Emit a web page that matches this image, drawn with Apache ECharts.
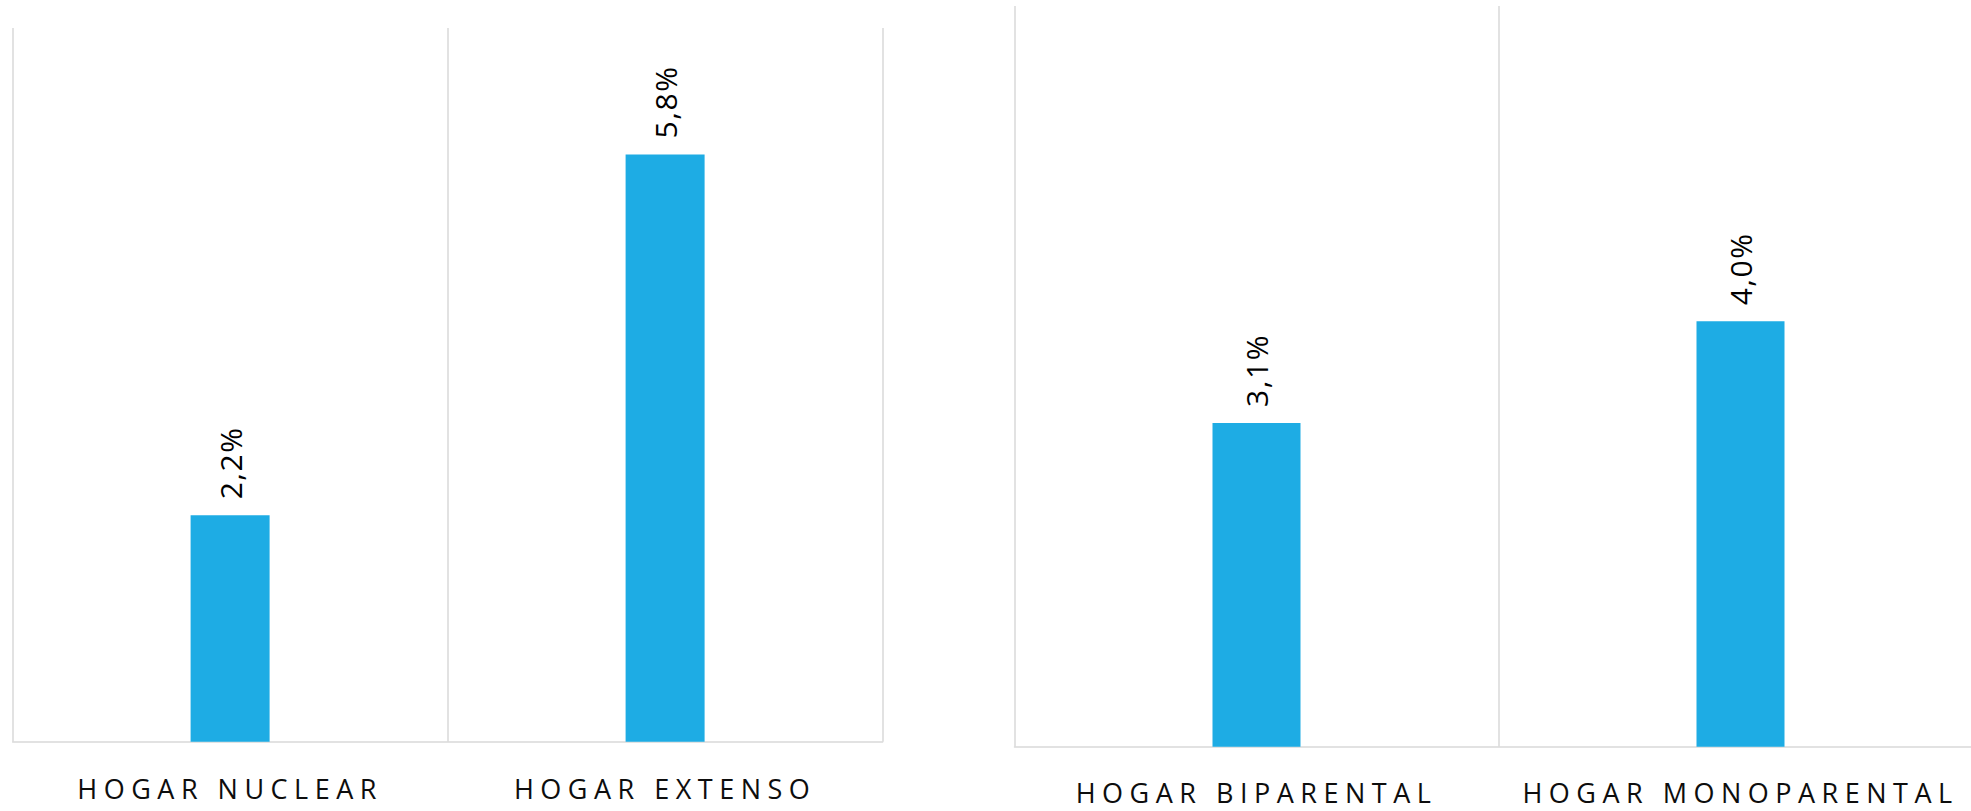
<!DOCTYPE html>
<html>
<head>
<meta charset="utf-8">
<script src="https://cdn.jsdelivr.net/npm/echarts@6/dist/echarts.min.js"></script>
<style>
  html, body { margin: 0; padding: 0; background: #ffffff; }
  #main { width: 1971px; height: 811px; }
</style>
</head>
<body>
<div id="main"></div>
<script>
const categoriesLeft = ['HOGAR NUCLEAR', 'HOGAR EXTENSO'];
const valuesLeft = [2.22, 5.76];
const categoriesRight = ['HOGAR BIPARENTAL', 'HOGAR MONOPARENTAL'];
const valuesRight = [3.06, 4.02];
const axisMax = 7;

const barColor = '#1EACE4';
const lineColor = '#D9D9D9';
const fontFamily = '"Open Sans", "Noto Sans", sans-serif';

function xAxisFor(cats, gridIndex, margin) {
  return {
    type: 'category',
    gridIndex: gridIndex,
    data: cats,
    boundaryGap: true,
    axisLine: { show: true, lineStyle: { color: lineColor, width: 1.5 } },
    axisTick: { show: false },
    splitLine: { show: true, lineStyle: { color: lineColor, width: 1.5 } },
    axisLabel: {
      color: '#0d0d0d',
      fontFamily: fontFamily,
      fontSize: 27,
      lineHeight: 27,
      margin: margin,
      interval: 0
    }
  };
}
function yAxisFor(gridIndex) {
  return {
    type: 'value',
    gridIndex: gridIndex,
    min: 0,
    max: axisMax,
    show: false,
    splitLine: { show: false }
  };
}
function seriesFor(vals, idx, width) {
  return {
    type: 'bar',
    xAxisIndex: idx,
    yAxisIndex: idx,
    data: vals,
    barWidth: width,
    itemStyle: { color: barColor },
    label: {
      show: true,
      position: 'top',
      rotate: 90,
      align: 'left',
      verticalAlign: 'middle',
      distance: 16,
      color: '#000000',
      fontFamily: fontFamily,
      fontSize: 30,
      formatter: function (p) { return p.value.toFixed(1).replace('.', ',') + '%'; }
    }
  };
}

const chart = echarts.init(document.getElementById('main'), null, { renderer: 'svg' });
chart.setOption({
  animation: false,
  backgroundColor: '#ffffff',
  grid: [
    { left: 12.6, width: 870, top: 28, bottom: 69.3, containLabel: false, outerBoundsMode: 'none' },
    { left: 1014.5, width: 968, top: 6, bottom: 64.3, containLabel: false, outerBoundsMode: 'none' }
  ],
  xAxis: [xAxisFor(categoriesLeft, 0, 33), xAxisFor(categoriesRight, 1, 32)],
  yAxis: [yAxisFor(0), yAxisFor(1)],
  series: [seriesFor(valuesLeft, 0, 79), seriesFor(valuesRight, 1, 88)]
});

function spaceLetters() {
  const texts = document.querySelectorAll('#main svg text');
  texts.forEach(function (t) {
    const s = t.textContent || '';
    t.style.letterSpacing = s.indexOf('%') >= 0 ? '1.5px' : '6.5px';
  });
}
spaceLetters();
chart.on('finished', spaceLetters);
setTimeout(spaceLetters, 50);
</script>
</body>
</html>
